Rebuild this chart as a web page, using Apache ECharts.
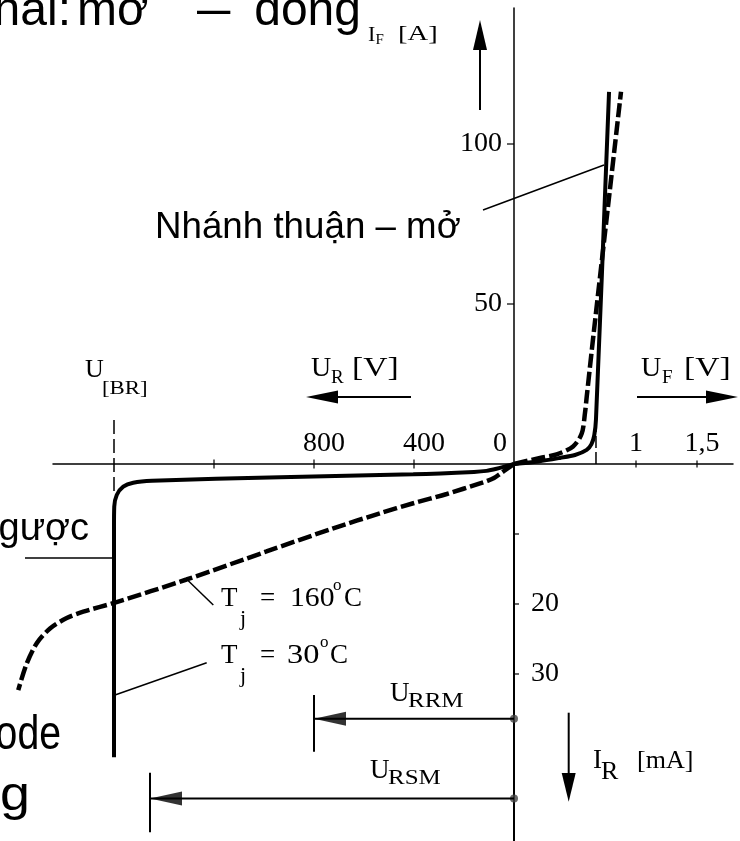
<!DOCTYPE html>
<html>
<head>
<meta charset="utf-8">
<script src="https://cdn.jsdelivr.net/npm/echarts@6.0.0/dist/echarts.min.js"></script>
<style>
html, body { margin: 0; padding: 0; background: #fff; }
#chart { width: 740px; height: 841px; }
</style>
</head>
<body>
<div id="chart"></div>
<script>
// forward branch: U_F [V], I_F [A]
var fwd30 = [[0, 0], [0.2, 0.8], [0.377, 1.9], [0.5, 2.8], [0.596, 4.4], [0.635, 6.2], [0.658, 9], [0.672, 14], [0.779, 116.3]];
var fwd160 = [[0, 0], [0.213, 1.9], [0.35, 3.0], [0.484, 5.5], [0.555, 9.5], [0.582, 16], [0.596, 21], [0.656, 41.9], [0.766, 79], [0.877, 116.3]];
// reverse branch: U_R [V], I_R [mA]
var rev30 = [[0, 0], [30, 0.28], [70, 0.68], [110, 0.98], [160, 1.13], [403, 1.47], [936, 1.9], [1448, 2.39], [1523, 2.67], [1563, 3.24], [1589, 4.43], [1599, 6.1], [1600, 9], [1600, 41.9]];
var rev160 = [[0, 0], [27, 0.67], [53, 1.33], [80, 2.0], [110, 2.45], [136, 2.76], [269, 4.29], [403, 5.61], [536, 7.04], [723, 9.19], [990, 12.5], [1310, 16.5], [1596, 19.8], [1723, 21.1], [1789, 22.0], [1856, 23.5], [1909, 25.6], [1949, 28.5], [1983, 32.3]];

var fwdTicks = [1, 1.5];
var revTicks = [400, 800, 1200];
var ifTicks = [50, 100];
var irTicks = [10, 20, 30];
var fwdLabels = [1, 1.5];
var revLabels = [0, 400, 800];
var ifLabels = [50, 100];
var irLabels = [20, 30];

var uBR = 1600;
var uBRSpan = [-6.3, 4.1];
var kneeU = 0.672;
var kneeSpan = [0, 11.25];
var uRRM = 800, rrmLevel = 36.4, rrmBar = [33.0, 41.1];
var uRSM = 1456, rsmLevel = 47.8, rsmBar = [44.1, 52.6];

var myChart = echarts.init(document.getElementById('chart'));

var SERIF = 'Liberation Serif';
var SANS = 'Liberation Sans';
var triLeft = 'path://M0,5L10,0L10,10Z';

function txt(x, y, s, size, fam, align, sx) {
    return {
        type: 'text', x: x, y: y, scaleX: sx || 1, silent: true,
        style: { text: s, font: size + 'px "' + fam + '"', fill: '#000', align: align || 'left', verticalAlign: 'middle' }
    };
}
function seg(x1, y1, x2, y2, w) {
    return { type: 'line', silent: true, shape: { x1: x1, y1: y1, x2: x2, y2: y2 }, style: { stroke: '#000', lineWidth: w || 1.5 } };
}
function tri(pts) {
    return { type: 'polygon', silent: true, shape: { points: pts }, style: { fill: '#000' } };
}
function lineSer(xi, yi, data, w, dash) {
    return {
        type: 'line', xAxisIndex: xi, yAxisIndex: yi, data: data, symbol: 'none', clip: false,
        smooth: 0.3, silent: true,
        lineStyle: { color: '#000', width: w, type: dash || 'solid', cap: 'butt' }
    };
}
function flat(xi, data, w, dash) {
    var s = lineSer(xi, xi, data, w, dash);
    s.smooth = false;
    return s;
}
function tickSer(xi, data, size, offset) {
    return {
        type: 'scatter', xAxisIndex: xi, yAxisIndex: xi, data: data, symbol: 'rect',
        symbolSize: size, symbolOffset: offset || [0, 0], clip: false, silent: true,
        itemStyle: { color: '#000' }
    };
}
var lab = { fontSize: 28, fontFamily: SERIF, color: '#000' };

option = {
    animation: false,
    backgroundColor: '#fff',
    textStyle: { fontFamily: SERIF },
    grid: [
        { left: 514, top: 8, width: 219, height: 456 },
        { left: 53, top: 464, width: 461, height: 377 },
        // same scale as grid 1, reaching the left edge (for the 160 oC tail)
        { left: 0, top: 464, width: 514, height: 377 }
    ],
    xAxis: [
        {
            gridIndex: 0, type: 'value', min: 0, max: 1.795, position: 'bottom',
            axisLine: { lineStyle: { color: '#000', width: 1.5 } },
            axisTick: { show: false }, splitLine: { show: false },
            axisLabel: {
                inside: true, margin: 6, customValues: fwdLabels,
                fontSize: 28, fontFamily: SERIF, color: '#000',
                formatter: function (v) {
                    if (fwdLabels.indexOf(v) < 0) return '';
                    return v === 1.5 ? '{b|1,5}' : '{a|' + v + '}';
                },
                rich: {
                    a: lab,
                    b: { fontSize: 28, fontFamily: SERIF, color: '#000', padding: [0, 0, 0, 10] }
                }
            }
        },
        {
            gridIndex: 1, type: 'value', min: 0, max: 1844, inverse: true, position: 'top',
            axisLine: { lineStyle: { color: '#000', width: 1.5 } },
            axisTick: { show: false }, splitLine: { show: false },
            axisLabel: {
                margin: 6, customValues: revLabels,
                fontSize: 28, fontFamily: SERIF, color: '#000',
                formatter: function (v) {
                    if (revLabels.indexOf(v) < 0) return '';
                    return v === 0 ? '{z|0}' : '{n|' + v + '}';
                },
                rich: {
                    n: { fontSize: 28, fontFamily: SERIF, color: '#000', padding: [0, 0, 0, 20] },
                    z: { fontSize: 28, fontFamily: SERIF, color: '#000', padding: [0, 28, 0, 0] }
                }
            }
        },
        { gridIndex: 2, type: 'value', min: 0, max: 2056, inverse: true, show: false }
    ],
    yAxis: [
        {
            gridIndex: 0, type: 'value', min: 0, max: 142.5, position: 'left',
            axisLine: { lineStyle: { color: '#000', width: 1.5 } },
            axisTick: { show: false }, splitLine: { show: false },
            axisLabel: {
                margin: 12, customValues: ifLabels, fontSize: 28, fontFamily: SERIF, color: '#000',
                formatter: function (v) { return ifLabels.indexOf(v) < 0 ? '' : String(v); }
            }
        },
        {
            gridIndex: 1, type: 'value', min: 0, max: 53.86, inverse: true, position: 'right',
            axisLine: { lineStyle: { color: '#000', width: 2 } },
            axisTick: { show: false }, splitLine: { show: false },
            axisLabel: {
                margin: 17, customValues: irLabels, fontSize: 28, fontFamily: SERIF, color: '#000',
                formatter: function (v) { return irLabels.indexOf(v) < 0 ? '' : String(v); }
            }
        },
        { gridIndex: 2, type: 'value', min: 0, max: 53.86, inverse: true, show: false }
    ],
    series: [
        lineSer(0, 0, fwd30, 4),
        lineSer(0, 0, fwd160, 4.5, [14, 4]),
        lineSer(1, 1, rev30, 4),
        lineSer(2, 2, rev160, 4.5, [14, 4]),
        flat(1, [[uBR, uBRSpan[0]], [uBR, uBRSpan[1]]], 1.5, [14, 5]),
        flat(0, [[kneeU, kneeSpan[0]], [kneeU, kneeSpan[1]]], 1.5, [12, 4]),
        // crossing ticks on the voltage axes
        tickSer(0, fwdTicks.map(function (v) { return [v, 0]; }), [1.5, 7]),
        tickSer(1, revTicks.map(function (v) { return [v, 0]; }), [1.5, 9]),
        tickSer(0, ifTicks.map(function (v) { return [0, v]; }), [7, 1.5], [-3.5, 0]),
        tickSer(1, irTicks.map(function (v) { return [0, v]; }), [5, 1.5], [2.5, 0]),
        // U_RRM and U_RSM markers
        flat(1, [[0, rrmLevel], [uRRM, rrmLevel]], 2),
        flat(1, [[uRRM, rrmBar[0]], [uRRM, rrmBar[1]]], 2),
        flat(1, [[0, rsmLevel], [uRSM, rsmLevel]], 2),
        flat(1, [[uRSM, rsmBar[0]], [uRSM, rsmBar[1]]], 2),
        {
            type: 'scatter', xAxisIndex: 1, yAxisIndex: 1, clip: false, silent: true,
            data: [[uRRM, rrmLevel], [uRSM, rsmLevel]],
            symbol: triLeft, symbolSize: [32, 14], symbolOffset: [16, 0],
            itemStyle: { color: '#000' }
        },
        {
            type: 'scatter', xAxisIndex: 1, yAxisIndex: 1, clip: false, silent: true,
            data: [[0, rrmLevel], [0, rsmLevel]],
            symbol: 'circle', symbolSize: 8,
            itemStyle: { color: '#444' }
        }
    ],
    graphic: [
        // slide text behind the figure
        txt(71, 12, 'Hai trạng thái:', 48, SANS, 'right'),
        txt(77, 12, 'mở', 48, SANS, 'left'),
        txt(197, 12, '–', 48, SANS, 'left', 1.25),
        txt(361, 12, 'đóng', 48, SANS, 'right'),
        txt(155, 228, 'Nhánh thuận – mở', 36, SANS, 'left', 1.02),
        txt(89, 529.5, 'Nhánh ngược', 38, SANS, 'right'),
        txt(61, 735.5, 'Đặc tính của Diode', 49, SANS, 'right', 0.8),
        txt(30, 796, 'ứng dụng', 49, SANS, 'right', 1.1),
        // leader lines
        seg(483, 210, 604, 165),
        seg(25, 558, 114, 558),
        seg(186.7, 579.3, 213.3, 605),
        seg(115, 695, 206.7, 662.7),
        // axis direction arrows
        seg(480, 110, 480, 45, 2), tri([[480, 20], [473, 50], [487, 50]]),
        seg(411, 397, 335, 397, 2), tri([[306, 397], [338, 390.5], [338, 403.5]]),
        seg(637, 397, 710, 397, 2), tri([[738, 397], [706, 390.5], [706, 403.5]]),
        seg(568.7, 712.7, 568.7, 776, 2), tri([[568.7, 801.7], [561.7, 773], [575.7, 773]]),
        // axis titles
        txt(368, 35, 'I', 22, SERIF), txt(375.5, 40, 'F', 15, SERIF), txt(398, 34.7, '[A]', 22, SERIF, 'left', 1.3),
        txt(85, 370, 'U', 26, SERIF), txt(102, 389, '[BR]', 19, SERIF, 'left', 1.2),
        txt(311, 369, 'U', 28, SERIF), txt(331, 378, 'R', 19, SERIF), txt(352, 369, '[V]', 28, SERIF, 'left', 1.2),
        txt(641, 369, 'U', 28, SERIF), txt(662, 378, 'F', 19, SERIF), txt(684, 369, '[V]', 28, SERIF, 'left', 1.2),
        txt(593, 761, 'I', 27, SERIF), txt(601, 772.4, 'R', 26, SERIF), txt(637, 761.4, '[mA]', 26, SERIF),
        // temperature labels
        txt(221, 599, 'T', 27, SERIF), txt(240, 619, 'j', 22, SERIF), txt(260, 599, '=', 27, SERIF),
        txt(290, 599, '160', 27, SERIF, 'left', 1.1), txt(333, 586, 'o', 17, SERIF), txt(344, 599, 'C', 27, SERIF),
        txt(221, 656, 'T', 27, SERIF), txt(240, 676, 'j', 22, SERIF), txt(260, 656, '=', 27, SERIF),
        txt(287, 656, '30', 27, SERIF, 'left', 1.2), txt(320, 643, 'o', 17, SERIF), txt(330, 656, 'C', 27, SERIF),
        // U_RRM, U_RSM
        txt(390, 694, 'U', 27, SERIF), txt(408, 701.4, 'RRM', 20, SERIF, 'left', 1.25),
        txt(370, 771, 'U', 27, SERIF), txt(388, 779, 'RSM', 20, SERIF, 'left', 1.25)
    ]
};
myChart.setOption(option);
</script>
</body>
</html>
